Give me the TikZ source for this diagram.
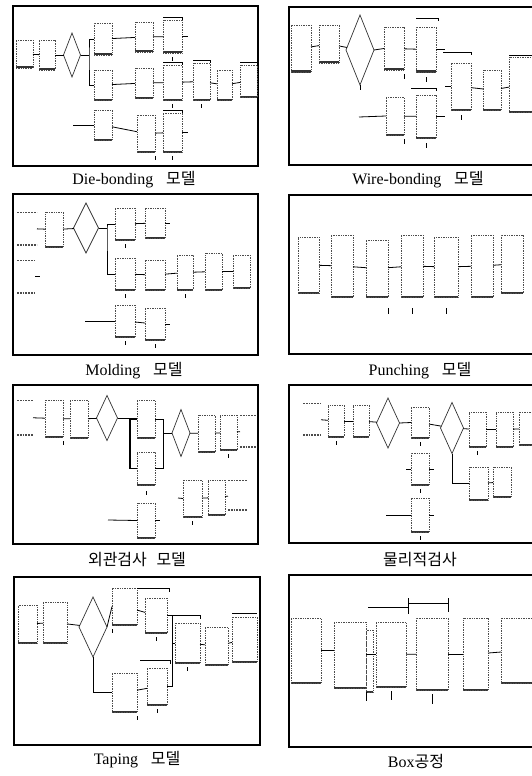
\documentclass[tikz,border=0pt]{standalone}
\usepackage{fontspec}
\setmainfont{Liberation Serif}
\newfontfamily\kr{Noto Sans CJK KR}
\usetikzlibrary{shapes.geometric,calc}

\begin{document}
\begin{tikzpicture}[
    x=1pt,y=-1pt,
    mbox/.style={draw=black!70, densely dotted, line width=0.7pt, inner sep=0pt, outer sep=0pt,
      path picture={\draw[solid, black!80, line width=3pt] (path picture bounding box.south west) -- (path picture bounding box.south east);}},
    endbox/.style={inner sep=0pt, outer sep=0pt,
      path picture={\draw[densely dotted, black!70, line width=1.8pt] (path picture bounding box.north west) -- (path picture bounding box.north east) (path picture bounding box.south west) -- (path picture bounding box.south east);}},
    dec/.style={shape=diamond, draw=black!80, line width=0.7pt, inner sep=0pt, outer sep=0pt},
    link/.style={line width=0.8pt},
    bar/.style={line width=0.9pt},
    tk/.style={line width=0.6pt},
    panel/.style={draw, line width=1.1pt},
    captext/.style={font=\fontsize{16}{18}\selectfont, inner sep=0pt}
  ]
    \useasboundingbox (0,0) rectangle (532,776);

    % Rahmen
    \draw[panel] (13,6) rectangle (258,166);
    \draw[panel] (289,7) rectangle (545,165);
    \draw[panel] (13,194) rectangle (258,355);
    \draw[panel] (289,195) rectangle (545,354);
    \draw[panel] (13,385) rectangle (258,544);
    \draw[panel] (289,385) rectangle (545,543);
    \draw[panel] (14,577) rectangle (260,745);
    \draw[panel] (289,575) rectangle (545,747);

    % Beschriftungen
    \node[captext] (cap1) at (134,180) {Die-bonding\hspace{0.8em}{\kr 모델}};
    \node[captext] (cap2) at (418,180) {Wire-bonding\hspace{0.8em}{\kr 모델}};
    \node[captext] (cap3) at (134,371) {Molding\hspace{0.8em}{\kr 모델}};
    \node[captext] (cap4) at (420,371) {Punching\hspace{0.8em}{\kr 모델}};
    \node[captext] (cap5) at (137,560) {{\kr 외관검사}\hspace{0.6em}{\kr 모델}};
    \node[captext] (cap6) at (420,560) {{\kr 물리적검사}};
    \node[captext] (cap7) at (137,760) {Taping\hspace{0.8em}{\kr 모델}};
    \node[captext] (cap8) at (416,761) {Box{\kr 공정}};

    % Die-bonding
    \node[mbox, minimum width=17, minimum height=28] (d1) at (24.5,54) {};
    \node[mbox, minimum width=16, minimum height=30] (d2) at (47,55) {};
    \node[dec, minimum width=17, minimum height=44] (dd) at (72,55) {};
    \coordinate (dj) at (89,55);
    \node[mbox, minimum width=18, minimum height=32] (t1) at (103,39) {};
    \node[mbox, minimum width=18, minimum height=30] (t2) at (144,37) {};
    \node[mbox, minimum width=19, minimum height=33] (t3) at (172.5,36.5) {};
    \node[mbox, minimum width=18, minimum height=30] (m1) at (103,85) {};
    \node[mbox, minimum width=18, minimum height=30] (m2) at (144,83) {};
    \node[mbox, minimum width=19, minimum height=35] (m3) at (172.5,82.5) {};
    \node[mbox, minimum width=17, minimum height=37] (m4) at (201.5,81.5) {};
    \node[mbox, minimum width=15, minimum height=30] (m5) at (224.5,85) {};
    \node[mbox, minimum width=17, minimum height=32] (m6) at (248.5,81) {};
    \coordinate (ds) at (73,125);
    \node[mbox, minimum width=18, minimum height=30] (b1) at (103,125) {};
    \node[mbox, minimum width=18, minimum height=37] (b2) at (146,133.5) {};
    \node[mbox, minimum width=19, minimum height=39] (b3) at (172.5,132.5) {};
    \draw[link] (d1) -- (d2);
    \draw[link] (d2) -- (dd);
    \draw[link] (dd.east) -- (dj);
    \draw[link] (t1.west) -| (dj) |- (m1.west);
    \draw[link] (t1) -- (t2);
    \draw[link] (t2) -- (t3);
    \draw[link] (t3.east) -- ++(6,0);
    \draw[link] (m1) -- (m2);
    \draw[link] (m2) -- (m3);
    \draw[link] (m3) -- (m4);
    \draw[link] (m4) -- (m5);
    \draw[link] (m5) -- (m6);
    \draw[link] (ds) -- (b1.west);
    \draw[link] (b1) -- (b2);
    \draw[link] (b2) -- (b3);
    \draw[link] (b3.east) -- ++(6,0);
    \draw[bar] ([yshift=3pt]t3.north west) -- ([yshift=3pt]t3.north east) -- ++(0,3);
    \draw[bar] ([yshift=3pt]m3.north west) -- ([yshift=3pt]m3.north east) -- ++(0,3);
    \draw[bar] ([yshift=3pt]m4.north west) -- ([yshift=3pt]m4.north east) -- ++(0,3);
    \draw[bar] ([yshift=3pt]m6.north west) -- ([yshift=3pt]m6.north east) -- ++(0,3);
    \draw[bar] ([yshift=3pt]b3.north west) -- ([yshift=3pt]b3.north east) -- ++(0,3);
    \draw[tk] ([yshift=-4pt]t3.south) -- ++(0,4);
    \draw[tk] ([yshift=-4pt]m3.south) -- ++(0,4);
    \draw[tk] ([yshift=-4pt]m4.south) -- ++(0,4);
    \draw[tk] ([yshift=-4pt]b2.south east) -- ++(0,4);
    \draw[tk] ([yshift=-4pt]b3.south) -- ++(0,4);

    % Wire-bonding
    \node[mbox, minimum width=20, minimum height=47] (w1) at (301,48.5) {};
    \node[mbox, minimum width=20, minimum height=38] (w2) at (329,44) {};
    \node[dec, minimum width=28, minimum height=70] (wd) at (360,50) {};
    \node[mbox, minimum width=20, minimum height=43] (w3) at (394,48.5) {};
    \node[mbox, minimum width=20, minimum height=45] (w4) at (426,49.5) {};
    \coordinate (ws) at (359,117);
    \node[mbox, minimum width=18, minimum height=38] (w5) at (395,116) {};
    \node[mbox, minimum width=20, minimum height=43] (w6) at (426,116.5) {};
    \coordinate (wj) at (445,86.5);
    \node[mbox, minimum width=20, minimum height=47] (w7) at (461,86.5) {};
    \node[mbox, minimum width=18, minimum height=40] (w8) at (492,90) {};
    \node[mbox, minimum width=31, minimum height=55] (w9) at (524.5,84.5) {};
    \draw[link] (w1) -- (w2);
    \draw[link] (w2) -- (wd);
    \draw[link] (wd.east) -- (w3.west);
    \draw[link] (w3) -- (w4);
    \draw[link] (w4.east) -- ++(9,0);
    \draw[link] (wd.south) -- ++(0,5);
    \draw[link] (ws) -- (w5.west);
    \draw[link] (w5) -- (w6);
    \draw[link] (w6.east) -- ++(9,0);
    \draw[link] (wj) -- (w7.west);
    \draw[link] (w7) -- (w8);
    \draw[link] (w8) -- (w9);
    \draw[bar] ([yshift=9pt]w4.north west) -- ([yshift=9pt,xshift=2pt]w4.north east) -- ++(0,3);
    \draw[bar] ([yshift=7pt,xshift=-5pt]w6.north west) -- ([yshift=7pt]w6.north east) -- ++(0,3);
    \draw[bar] ([yshift=11pt,xshift=-8pt]w7.north west) -- ([yshift=11pt]w7.north east) -- ++(0,3);
    \draw[bar] ([yshift=2pt]w9.north west) -- ([yshift=2pt]w9.north east);
    \draw[tk] ([yshift=-4pt]w3.south east) -- ++(0,5);
    \draw[tk] ([yshift=-5pt]w4.south) -- ++(0,5);
    \draw[tk] ([yshift=-4pt]w5.south east) -- ++(0,5);
    \draw[tk] ([yshift=-5pt]w6.south) -- ++(0,5);
    \draw[tk] ([yshift=-5pt]w7.south) -- ++(0,5);

    % Molding
    \node[endbox, minimum width=20, minimum height=33] (l1) at (27,228.5) {};
    \node[mbox, minimum width=18, minimum height=35] (l2) at (54,229.5) {};
    \node[dec, minimum width=25, minimum height=50] (ld) at (86,228) {};
    \coordinate (lj) at (107,228);
    \node[mbox, minimum width=20, minimum height=32] (a1) at (125,224) {};
    \node[mbox, minimum width=20, minimum height=30] (a2) at (155,223) {};
    \node[mbox, minimum width=20, minimum height=32] (c1) at (125,274) {};
    \node[mbox, minimum width=20, minimum height=30] (c2) at (155,275) {};
    \node[mbox, minimum width=16, minimum height=35] (c3) at (185,272.5) {};
    \node[mbox, minimum width=17, minimum height=37] (c4) at (213.5,271.5) {};
    \node[mbox, minimum width=17, minimum height=33] (c5) at (241.5,271.5) {};
    \node[endbox, minimum width=18, minimum height=33] (l3) at (26,276.5) {};
    \coordinate (ls) at (85,321);
    \node[mbox, minimum width=20, minimum height=32] (e1) at (125,321) {};
    \node[mbox, minimum width=20, minimum height=32] (e2) at (155,324) {};
    \draw[link] (l1) -- (l2);
    \draw[link] (l2) -- (ld);
    \draw[link] (ld.east) -- (lj);
    \draw[link] (a1.west) -| (lj) |- (c1.west);
    \draw[link] (a1) -- (a2);
    \draw[link] (a2.east) -- ++(5,0);
    \draw[link] (c1) -- (c2);
    \draw[link] (c2) -- (c3);
    \draw[link] (c3) -- (c4);
    \draw[link] (c4) -- (c5);
    \draw[link] (l3.east) -- ++(5,0);
    \draw[link] (ls) -- (e1.west);
    \draw[link] (e1) -- (e2);
    \draw[link] (e2.east) -- ++(5,0);
    \draw[tk] ([yshift=-4pt]a1.south) -- ++(0,4);
    \draw[tk] ([yshift=-4pt]c1.south) -- ++(0,4);
    \draw[tk] ([yshift=-4pt]c3.south) -- ++(0,4);
    \draw[tk] ([yshift=-4pt]e1.south) -- ++(0,4);
    \draw[tk] ([yshift=-4pt]e2.south) -- ++(0,4);

    % Punching
    \node[mbox, minimum width=21, minimum height=56] (p1) at (308.5,265) {};
    \node[mbox, minimum width=22, minimum height=62] (p2) at (342,266) {};
    \node[mbox, minimum width=22, minimum height=57] (p3) at (377,268.5) {};
    \node[mbox, minimum width=22, minimum height=62] (p4) at (412,266) {};
    \node[mbox, minimum width=24, minimum height=60] (p5) at (446,267) {};
    \node[mbox, minimum width=22, minimum height=62] (p6) at (482,266) {};
    \node[mbox, minimum width=22, minimum height=58] (p7) at (512,264) {};
    \draw[link] (p1) -- (p2);
    \draw[link] (p2) -- (p3);
    \draw[link] (p3) -- (p4);
    \draw[link] (p4) -- (p5);
    \draw[link] (p5) -- (p6);
    \draw[link] (p6) -- (p7);
    \draw[tk] ([yshift=-11pt]p3.south east) -- ++(0,6);
    \draw[tk] ([yshift=-11pt]p4.south) -- ++(0,6);
    \draw[tk] ([yshift=-11pt]p5.south) -- ++(0,6);

    % Aussenpruefung
    \node[endbox, minimum width=16, minimum height=35] (g1) at (25,417.5) {};
    \node[mbox, minimum width=18, minimum height=37] (g2) at (54,418.5) {};
    \node[mbox, minimum width=18, minimum height=38] (g3) at (79,419) {};
    \node[dec, minimum width=21, minimum height=45] (gd1) at (107,418) {};
    \coordinate (gj1) at (130,418);
    \node[mbox, minimum width=18, minimum height=38] (g4) at (146,419) {};
    \node[mbox, minimum width=18, minimum height=33] (g5) at (146,468.5) {};
    \coordinate (gj2) at (163,433);
    \node[dec, minimum width=18, minimum height=47] (gd2) at (181,433) {};
    \node[mbox, minimum width=17, minimum height=37] (g6) at (206.5,433.5) {};
    \node[mbox, minimum width=17, minimum height=35] (g7) at (228.5,432.5) {};
    \node[endbox, minimum width=17, minimum height=32] (g8) at (248.5,431) {};
    \coordinate (gs1) at (178,498);
    \node[mbox, minimum width=19, minimum height=37] (g9) at (192.5,498.5) {};
    \node[mbox, minimum width=17, minimum height=35] (g10) at (216.5,497.5) {};
    \node[endbox, minimum width=19, minimum height=30] (g11) at (237.5,495) {};
    \coordinate (gs2) at (108,520);
    \node[mbox, minimum width=18, minimum height=35] (g12) at (146,520.5) {};
    \draw[link] (g1) -- (g2);
    \draw[link] (g2) -- (g3);
    \draw[link] (g3) -- (gd1);
    \draw[link] (gd1.east) -- (gj1);
    \draw[link, line width=1.4pt] (g4.west) -| (gj1) |- (g5.west);
    \draw[link] (g4.east) -| (gj2);
    \draw[link] (g5.east) -| (gj2);
    \draw[link] (gj2) -- (gd2.west);
    \draw[link] (gd2) -- (g6);
    \draw[link] (g6) -- (g7);
    \draw[link] (g7) -- (g8);
    \draw[link] (gs1) -- (g9.west);
    \draw[link] (g9) -- (g10);
    \draw[link] (g10) -- (g11);
    \draw[link] (gs2) -- (g12.west);
    \draw[link] (g12.east) -- ++(5,0);
    \draw[tk] ([yshift=-4pt]g2.south east) -- ++(0,4);
    \draw[tk] ([yshift=-6pt]g5.south) -- ++(0,4);
    \draw[tk] ([yshift=-4pt]g7.south) -- ++(0,4);
    \draw[tk] ([yshift=-4pt]g9.south) -- ++(0,4);

    % Physikalische Pruefung
    \node[endbox, minimum width=18, minimum height=32] (h1) at (312,419) {};
    \node[mbox, minimum width=16, minimum height=32] (h2) at (336,421) {};
    \node[mbox, minimum width=16, minimum height=32] (h3) at (361,421) {};
    \node[dec, minimum width=23, minimum height=50] (hd1) at (388,423) {};
    \node[mbox, minimum width=18, minimum height=31] (h4) at (420,422.5) {};
    \node[mbox, minimum width=18, minimum height=32] (h5) at (420,469) {};
    \coordinate (hs) at (386,515);
    \node[mbox, minimum width=18, minimum height=34] (h6) at (420,515) {};
    \node[dec, minimum width=23, minimum height=51] (hd2) at (452,428) {};
    \node[mbox, minimum width=17, minimum height=35] (h7) at (477.5,429.5) {};
    \node[mbox, minimum width=17, minimum height=35] (h8) at (504.5,429.5) {};
    \node[mbox, minimum width=21, minimum height=33] (h9) at (529.5,428.5) {};
    \node[mbox, minimum width=19, minimum height=33] (h10) at (478.5,483.5) {};
    \node[mbox, minimum width=18, minimum height=30] (h11) at (502,482) {};
    \draw[link] (h1) -- (h2);
    \draw[link] (h2) -- (h3);
    \draw[link] (h3) -- (hd1);
    \draw[link] (hd1.east) -- (h4.west);
    \draw[link] (h4) -- (hd2);
    \draw[link] (hd2) -- (h7);
    \draw[link] (h7) -- (h8);
    \draw[link] (h8) -- (h9);
    \draw[link] (hd2.south) |- (h10.west);
    \draw[link] (h10) -- (h11);
    \draw[link] (h5.west) -- ++(-5,0);
    \draw[link] (h5.east) -- ++(5,0);
    \draw[link] (hs) -- (h6.west);
    \draw[link] (h6.east) -- ++(5,0);
    \draw[tk] ([yshift=-4pt]h2.south) -- ++(0,4);
    \draw[tk] ([yshift=-4pt]h4.south) -- ++(0,4);
    \draw[tk] ([yshift=-4pt]h5.south) -- ++(0,4);
    \draw[tk] ([yshift=-4pt]h6.south) -- ++(0,4);
    \draw[tk] ([yshift=-4pt]h7.south) -- ++(0,4);

    % Taping
    \node[mbox, minimum width=19, minimum height=38] (k1) at (27.5,624) {};
    \node[mbox, minimum width=24, minimum height=41] (k2) at (55,622.5) {};
    \node[dec, minimum width=28, minimum height=60] (kd) at (93,627) {};
    \node[mbox, minimum width=25, minimum height=37] (k3) at (124.5,606.5) {};
    \node[mbox, minimum width=22, minimum height=35] (k4) at (156,615.5) {};
    \coordinate (kj) at (172,643);
    \node[mbox, minimum width=25, minimum height=40] (k5) at (187.5,643) {};
    \node[mbox, minimum width=23, minimum height=38] (k6) at (216.5,646) {};
    \node[mbox, minimum width=25, minimum height=45] (k7) at (244.5,639.5) {};
    \node[mbox, minimum width=25, minimum height=39] (k8) at (124.5,692.5) {};
    \node[mbox, minimum width=20, minimum height=37] (k9) at (157,686.5) {};
    \draw[link] (k1) -- (k2);
    \draw[link] (k2) -- (kd);
    \draw[link] (kd.east) -- (k3.west);
    \draw[link] (k3) -- (k4);
    \draw[link] (k4.east) -| (kj) -- (k5.west);
    \draw[link] (k9.east) -| (kj);
    \draw[link] (k5) -- (k6);
    \draw[link] (k6) -- (k7);
    \draw[link] (kd.south) |- (k8.west);
    \draw[link] (k8) -- (k9);
    \draw[bar] ([yshift=10pt,xshift=-8pt]k4.north west) -- ([yshift=10pt,xshift=2pt]k4.north east) -- ++(0,4);
    \draw[bar] ([yshift=8pt,xshift=-3pt]k5.north west) -- ([yshift=8pt]k5.north east) -- ++(0,4);
    \draw[bar] ([yshift=4pt]k7.north west) -- ([yshift=4pt]k7.north east);
    \draw[bar] ([yshift=8pt,xshift=-7pt]k9.north west) -- ([yshift=8pt,xshift=3pt]k9.north east) -- ++(0,4);
    \draw[tk] ([yshift=-4pt]k3.south west) -- ++(0,4);
    \draw[tk] ([yshift=-4pt]k4.south) -- ++(0,4);
    \draw[tk] ([yshift=-4pt]k5.south) -- ++(0,4);
    \draw[tk] ([yshift=-4pt]k8.south east) -- ++(0,4);
    \draw[tk] ([yshift=-4pt]k9.south) -- ++(0,4);

    % Box-Prozess
    \node[mbox, minimum width=30, minimum height=65] (q1) at (306,650.5) {};
    \node[mbox, minimum width=32, minimum height=66] (q2) at (350,655) {};
    \node[mbox, minimum width=7, minimum height=62] (q2b) at (369.5,661) {};
    \node[mbox, minimum width=30, minimum height=65] (q3) at (391,654.5) {};
    \node[mbox, minimum width=32, minimum height=72] (q4) at (432,654) {};
    \node[mbox, minimum width=25, minimum height=72] (q5) at (475.5,654) {};
    \node[mbox, minimum width=39, minimum height=65] (q6) at (520.5,650.5) {};
    \draw[link] (q1) -- (q2.west |- q1);
    \draw[link] (q2.east |- q3) -- (q3.west);
    \draw[link] (q3) -- (q4);
    \draw[link] (q4) -- (q5);
    \draw[link] (q5) -- (q6);
    \draw[bar] (368,607) -- (408,607);
    \draw[bar] (408,603) -- (448,603);
    \draw[tk] (408,598) -- (408,614);
    \draw[tk] (448,598) -- (448,612);
    \draw[tk] ([yshift=-4pt]q2.south east) -- ++(0,9);
    \draw[tk] ([yshift=-4pt]q3.south) -- ++(0,9);
    \draw[tk] ([yshift=-4pt]q4.south) -- ++(0,10);
  \end{tikzpicture}
\end{document}
